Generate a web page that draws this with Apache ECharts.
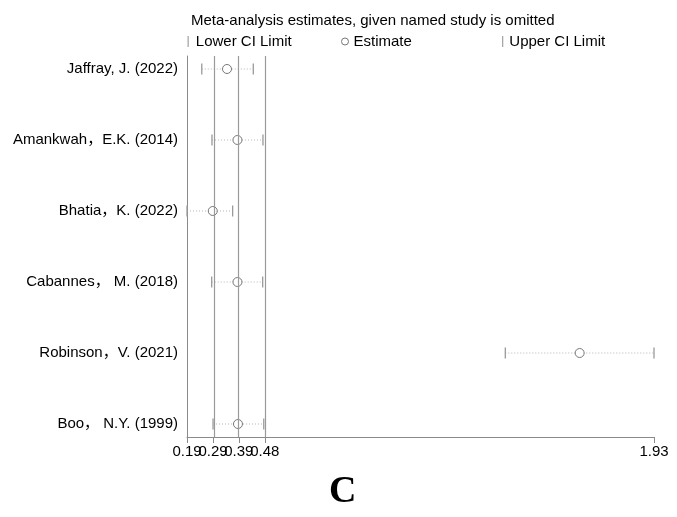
<!DOCTYPE html>
<html>
<head>
<meta charset="utf-8">
<script src="https://cdn.jsdelivr.net/npm/echarts@6/dist/echarts.min.js"></script>
<style>
html,body{margin:0;padding:0;background:#fff;}
#c{width:677px;height:517px;}
</style>
</head>
<body>
<div id="c"></div>
<script>
// ---- data ----
var studies = ['Jaffray, J. (2022)', 'Amankwah，E.K. (2014)', 'Bhatia，K. (2022)', 'Cabannes， M. (2018)', 'Robinson，V. (2021)', 'Boo， N.Y. (1999)'];
var estimate = [0.339, 0.378, 0.286, 0.378, 1.653, 0.380];
var lowerCI  = [0.245, 0.283, 0.190, 0.282, 1.376, 0.287];
var upperCI  = [0.437, 0.473, 0.360, 0.472, 1.930, 0.476];
// overall pooled estimate and its CI (vertical reference lines)
var overallLines = [0.287, 0.383, 0.480];
// x axis ticks and their printed labels
var tickValues = [0.19, 0.383, 0.287, 0.48, 1.93];
var tickLabels = ['0.19', '0.39', '0.29', '0.48', '1.93'];
var xMin = 0.19, xMax = 1.93;

var FONT = '"Liberation Sans", Arial, "Noto Sans CJK SC", sans-serif';
var FS = 15;
var chart = echarts.init(document.getElementById('c'), null, {renderer: 'canvas'});

var rows = studies.map(function (s, i) { return i; });
var ciData = rows.map(function (i) { return [lowerCI[i], i, upperCI[i]]; });
var lowData = rows.map(function (i) { return [lowerCI[i], i]; });
var upData = rows.map(function (i) { return [upperCI[i], i]; });
var estData = rows.map(function (i) { return [estimate[i], i]; });

function capRender(params, api) {
  var p = api.coord([api.value(0), api.value(1)]);
  return {
    type: 'line',
    shape: {x1: p[0], y1: p[1] - 5.5, x2: p[0], y2: p[1] + 5.5},
    style: {stroke: '#9a9a9a', lineWidth: 1.3}
  };
}

var option = {
  backgroundColor: '#fff',
  animation: false,
  title: {
    text: 'Meta-analysis estimates, given named study is omitted',
    left: 191, top: 13, padding: 0,
    textStyle: {fontFamily: FONT, fontSize: FS, fontWeight: 'normal', color: '#000'}
  },
  legend: [
    {
      left: 187.5, top: 34, padding: 0, itemWidth: 1.3, itemHeight: 11,
      textStyle: {fontFamily: FONT, fontSize: FS, color: '#000', padding: [0, 0, 0, 2]},
      data: [{name: 'Lower CI Limit', icon: 'rect', itemStyle: {color: '#a8a8a8'}}]
    },
    {
      left: 341, top: 34, padding: 0, itemWidth: 7, itemHeight: 7,
      textStyle: {fontFamily: FONT, fontSize: FS, color: '#000'},
      data: [{name: 'Estimate', icon: 'circle', itemStyle: {color: '#fff', borderColor: '#777', borderWidth: 1}}]
    },
    {
      left: 502, top: 34, padding: 0, itemWidth: 1.3, itemHeight: 11,
      textStyle: {fontFamily: FONT, fontSize: FS, color: '#000', padding: [0, 0, 0, 1]},
      data: [{name: 'Upper CI Limit', icon: 'rect', itemStyle: {color: '#a8a8a8'}}]
    }
  ],
  grid: {left: 187, right: 23, top: 56, bottom: 80, containLabel: false},
  xAxis: {
    type: 'value', min: xMin, max: xMax, position: 'bottom',
    axisLine: {show: true, onZero: false, lineStyle: {color: '#8a8a8a', width: 1}},
    axisTick: {show: true, length: 6, customValues: tickValues, lineStyle: {color: '#8a8a8a'}},
    axisLabel: {
      customValues: tickValues, margin: 7, fontFamily: FONT, fontSize: FS, color: '#000',
      hideOverlap: false,
      formatter: function (v) {
        for (var k = 0; k < tickValues.length; k++) {
          if (Math.abs(tickValues[k] - v) < 1e-6) return tickLabels[k];
        }
        return '';
      }
    },
    splitLine: {show: false}
  },
  yAxis: {
    type: 'value', inverse: true, min: -0.183, max: 5.183,
    axisLine: {show: true, onZero: false, lineStyle: {color: '#8a8a8a', width: 1}},
    axisTick: {show: false},
    splitLine: {show: false},
    axisLabel: {
      customValues: rows, margin: 9, fontFamily: FONT, fontSize: FS, color: '#000',
      showMinLabel: true, showMaxLabel: true,
      formatter: function (v) { return studies[Math.round(v)] || ''; }
    }
  },
  series: [
    {
      name: 'CI',
      type: 'custom',
      data: ciData,
      encode: {x: [0, 2], y: 1},
      renderItem: function (params, api) {
        var y = api.value(1);
        var a = api.coord([api.value(0), y]);
        var b = api.coord([api.value(2), y]);
        return {
          type: 'line',
          shape: {x1: a[0], y1: a[1], x2: b[0], y2: b[1]},
          style: {stroke: '#b5b5b5', lineWidth: 1, lineDash: [1, 2]}
        };
      },
      markLine: {
        silent: true, symbol: 'none', animation: false,
        label: {show: false},
        lineStyle: {color: '#9a9a9a', type: 'solid', width: 1.2},
        data: overallLines.map(function (v) { return {xAxis: v}; })
      },
      z: 2
    },
    {
      name: 'Lower CI Limit', type: 'custom', data: lowData,
      encode: {x: 0, y: 1}, renderItem: capRender, z: 3,
      itemStyle: {color: '#a8a8a8'}
    },
    {
      name: 'Upper CI Limit', type: 'custom', data: upData,
      encode: {x: 0, y: 1}, renderItem: capRender, z: 3,
      itemStyle: {color: '#a8a8a8'}
    },
    {
      name: 'Estimate', type: 'scatter', data: estData,
      symbol: 'circle', symbolSize: 9,
      itemStyle: {color: '#fff', borderColor: '#777', borderWidth: 1, opacity: 1},
      z: 4
    }
  ],
  graphic: [
    {
      type: 'text', left: 329, top: 473,
      style: {text: 'C', fontFamily: '"Liberation Serif", "Times New Roman", serif', fontSize: 38, fontWeight: 'bold', fill: '#000'}
    }
  ]
};
chart.setOption(option);
</script>
</body>
</html>
